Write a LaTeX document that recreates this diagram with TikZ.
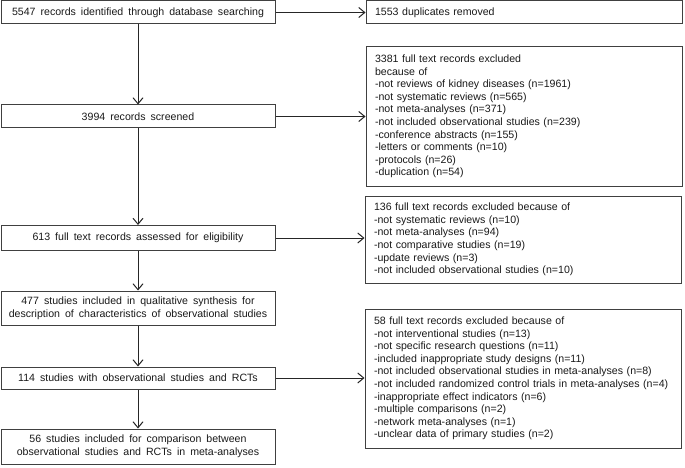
\documentclass[tikz,border=0pt]{standalone}
\usepackage{fontspec}
\setmainfont[WordSpace={1.7}]{Liberation Sans}
\usetikzlibrary{arrows.meta}
\begin{document}
\begin{tikzpicture}[x=1pt,y=-1pt,
  every node/.style={font=\fontsize{10.6}{12.6}\selectfont},
  lbox/.style={draw=black!75,line width=1pt,minimum width=274pt,inner sep=0pt,align=center,text=black!90},
  rbox/.style={draw=black!75,line width=1pt,text width=298pt,inner xsep=9pt,inner ysep=0pt,align=left,text=black!90},
  arr/.style={draw=black!85,line width=1pt,-{Straight Barb[length=6pt,width=10pt,line width=1pt]}},
  con/.style={draw=black!85,line width=1pt}]
\useasboundingbox (0,0) rectangle (685,468);
% left column
\node[lbox,minimum height=23pt] (b1) at (138,12.5) {5547 records identified through database searching};
\node[lbox,minimum height=23pt] (b2) at (138,116.5) {3994 records screened};
\node[lbox,minimum height=25pt] (b3) at (138,238) {613 full text records assessed for eligibility};
\node[lbox,minimum height=34pt] (b4) at (138,308) {477 studies included in qualitative synthesis for\\description of characteristics of observational studies};
\node[lbox,minimum height=22pt] (b5) at (138,378) {114 studies with observational studies and RCTs};
\node[lbox,minimum height=35pt] (b6) at (138,446.5) {56 studies included for comparison between\\observational studies and RCTs in meta-analyses};
% right column
\node[rbox,minimum height=23pt] (r1) at (524,12.5) {1553 duplicates removed};
\node[rbox,minimum height=139pt] (r2) at (524,116.5) {3381 full text records excluded\\because of\\-not reviews of kidney diseases (n=1961)\\-not systematic reviews (n=565)\\-not meta-analyses (n=371)\\-not included observational studies (n=239)\\-conference abstracts (n=155)\\-letters or comments (n=10)\\-protocols (n=26)\\-duplication (n=54)};
\node[rbox,minimum height=87pt] (r3) at (523,239.5) {136 full text records excluded because of\\-not systematic reviews (n=10)\\-not meta-analyses (n=94)\\-not comparative studies (n=19)\\-update reviews (n=3)\\-not included observational studies (n=10)};
\node[rbox,minimum height=139pt] (r4) at (523,378.5) {58 full text records excluded because of\\-not interventional studies (n=13)\\-not specific research questions (n=11)\\-included inappropriate study designs (n=11)\\-not included observational studies in meta-analyses (n=8)\\-not included randomized control trials in meta-analyses (n=4)\\-inappropriate effect indicators (n=6)\\-multiple comparisons (n=2)\\-network meta-analyses (n=1)\\-unclear data of primary studies (n=2)};
% vertical arrows
\draw[arr] (b1) -- (b2);
\draw[arr] (b2) -- (b3);
\draw[arr] (b3) -- (b4);
\draw[arr] (b4) -- (b5);
\draw[arr] (b5) -- (b6);
% horizontal arrows
\draw[arr] (b1.east) -- (b1.east -| r1.west);
\draw[arr] (b2.east) -- (b2.east -| r2.west);
\draw[arr] (b3.east) -- (b3.east -| r3.west);
\draw[arr] (b5.east) -- (b5.east -| r4.west);
\end{tikzpicture}
\end{document}
